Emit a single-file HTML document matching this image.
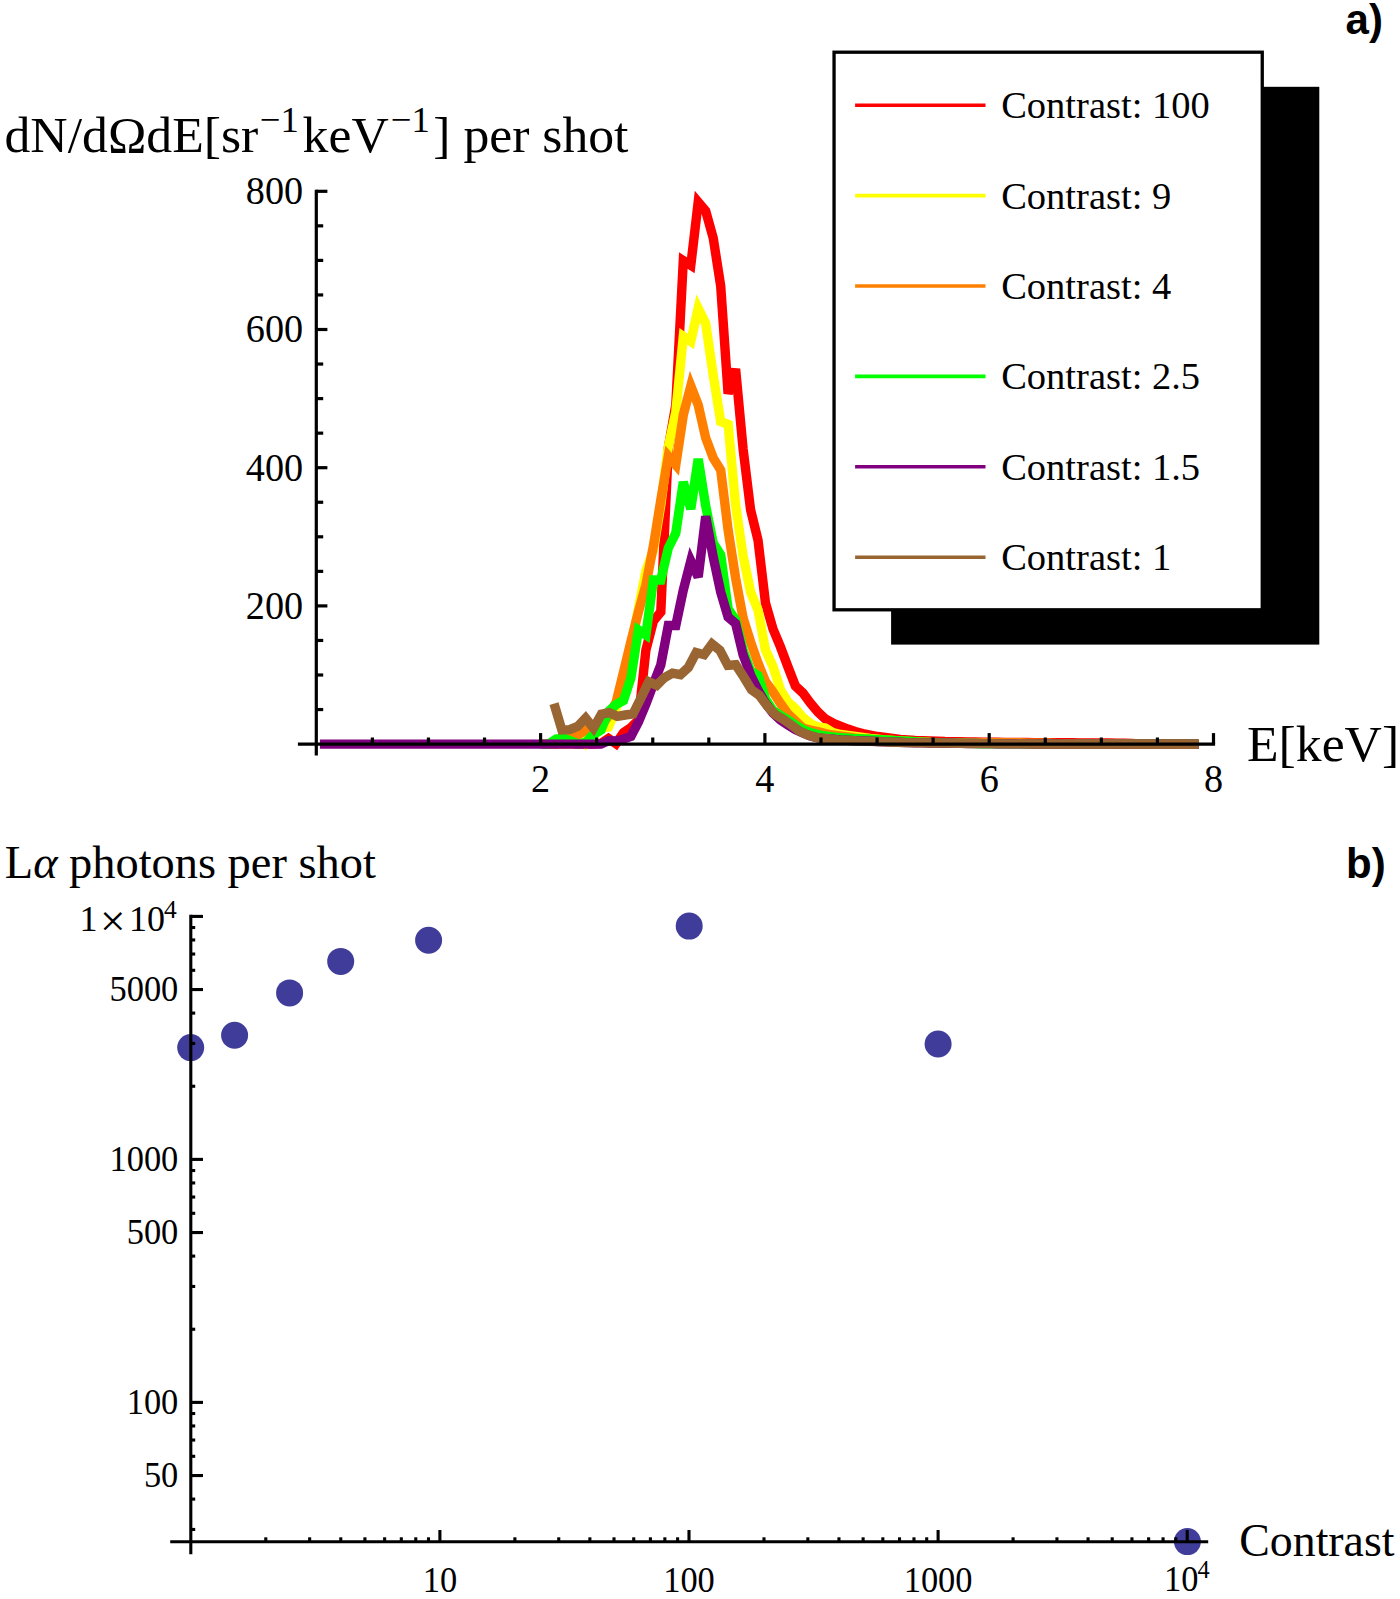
<!DOCTYPE html>
<html><head><meta charset="utf-8"><title>Figure</title>
<style>
html,body{margin:0;padding:0;background:#fff;}
body{width:1400px;height:1599px;overflow:hidden;}
svg{display:block}
text{font-family:"Liberation Serif","DejaVu Serif",serif;fill:#000}
.sans{font-family:"Liberation Sans","DejaVu Sans",sans-serif;font-weight:bold}
</style></head><body>
<svg width="1400" height="1599" viewBox="0 0 1400 1599">
<rect width="1400" height="1599" fill="#fff"/>
<g id="curves">
<polyline points="541.2,744.1 548.7,744.1 556.2,744.1 563.6,744.1 571.1,744.1 578.6,744.1 586.1,744.1 593.5,744.0 601.0,743.5 608.5,738.5 616.0,743.6 623.5,732.6 630.9,727.5 638.4,720.0 645.9,650.0 653.4,621.0 660.8,612.0 668.3,448.0 675.8,405.0 683.3,260.6 690.8,265.3 698.2,202.2 705.7,211.1 713.2,237.9 720.7,286.0 728.1,393.6 735.6,369.0 743.1,449.0 750.6,510.0 758.0,540.0 765.5,603.0 773.0,629.0 780.5,647.0 788.0,667.0 795.4,686.0 802.9,693.0 810.4,703.0 817.9,712.0 825.3,719.0 832.8,723.0 840.3,726.0 847.8,729.0 855.2,731.5 862.7,733.5 870.2,735.0 877.7,736.5 885.2,737.5 892.6,738.5 900.1,739.5 907.6,740.0 915.1,740.5 922.5,740.8 930.0,741.0 937.5,741.2 945.0,741.5 952.4,741.6 959.9,741.8 967.4,741.9 974.9,742.0 982.4,742.2 989.8,742.3 997.3,742.3 1004.8,742.4 1012.3,742.4 1019.7,742.5 1027.2,742.5 1034.7,742.6 1042.2,742.6 1049.6,742.7 1057.1,742.8 1064.6,742.8 1072.1,742.8 1079.6,742.9 1087.0,742.9 1094.5,743.0 1102.0,743.0 1109.5,743.0 1116.9,743.1 1124.4,743.1 1131.9,743.5 1139.4,743.9 1146.8,744.3 1154.3,744.3 1161.8,744.3 1169.3,744.3 1176.8,744.3 1184.2,744.3 1191.7,744.3 1198.6,744.3" fill="none" stroke="#ff0000" stroke-width="9.4" stroke-linejoin="miter" stroke-miterlimit="3.5" />
<polyline points="541.2,744.1 548.7,744.1 556.2,744.1 563.6,744.1 571.1,744.0 578.6,734.0 586.1,743.5 593.5,736.0 601.0,728.0 608.5,727.0 616.0,709.0 623.5,680.0 630.9,647.0 638.4,609.0 645.9,571.0 653.4,550.0 660.8,505.0 668.3,447.0 675.8,412.0 683.3,336.3 690.8,341.4 698.2,308.3 705.7,323.5 713.2,375.0 720.7,421.6 728.1,424.4 735.6,505.0 743.1,556.0 750.6,592.0 758.0,610.0 765.5,650.0 773.0,666.5 780.5,690.0 788.0,702.0 795.4,708.5 802.9,717.5 810.4,723.5 817.9,727.0 825.3,728.0 832.8,732.5 840.3,734.5 847.8,735.5 855.2,736.5 862.7,737.5 870.2,738.5 877.7,739.2 885.2,740.0 892.6,740.5 900.1,741.0 907.6,741.4 915.1,741.8 922.5,742.1 930.0,742.5 937.5,742.6 945.0,742.8 952.4,742.9 959.9,743.0 967.4,743.0 974.9,743.1 982.4,743.1 989.8,743.2 997.3,743.2 1004.8,743.3 1012.3,743.3 1019.7,743.3 1027.2,743.4 1034.7,743.4 1042.2,743.5 1049.6,743.5 1057.1,743.6 1064.6,743.6 1072.1,743.6 1079.6,743.6 1087.0,743.6 1094.5,743.6 1102.0,743.6 1109.5,743.6 1116.9,743.6 1124.4,743.6 1131.9,743.6 1139.4,743.6 1146.8,743.6 1154.3,743.6 1161.8,743.6 1169.3,743.6 1176.8,743.6 1184.2,743.6 1191.7,743.6 1198.6,743.6" fill="none" stroke="#ffff00" stroke-width="9.4" stroke-linejoin="miter" stroke-miterlimit="3.5" />
<polyline points="541.2,744.1 548.7,744.1 556.2,744.0 563.6,741.0 571.1,735.0 578.6,734.5 586.1,730.0 593.5,731.0 601.0,726.0 608.5,716.0 616.0,702.5 623.5,672.0 630.9,641.5 638.4,612.0 645.9,585.0 653.4,546.0 660.8,500.0 668.3,456.1 675.8,464.9 683.3,415.0 690.8,386.0 698.2,405.0 705.7,438.0 713.2,458.0 720.7,470.0 728.1,530.0 735.6,578.0 743.1,618.0 750.6,642.0 758.0,663.0 765.5,681.5 773.0,692.0 780.5,703.5 788.0,714.0 795.4,721.0 802.9,728.0 810.4,730.0 817.9,731.5 825.3,733.5 832.8,735.0 840.3,736.0 847.8,737.0 855.2,738.0 862.7,738.8 870.2,739.5 877.7,740.0 885.2,740.5 892.6,741.0 900.1,741.5 907.6,741.8 915.1,742.0 922.5,742.2 930.0,742.5 937.5,742.6 945.0,742.7 952.4,742.8 959.9,742.9 967.4,742.9 974.9,743.0 982.4,743.1 989.8,743.2 997.3,743.2 1004.8,743.3 1012.3,743.3 1019.7,743.4 1027.2,743.4 1034.7,743.4 1042.2,743.5 1049.6,743.5 1057.1,743.6 1064.6,743.6 1072.1,743.6 1079.6,743.6 1087.0,743.6 1094.5,743.6 1102.0,743.6 1109.5,743.6 1116.9,743.6 1124.4,743.6 1131.9,743.6 1139.4,743.6 1146.8,743.6 1154.3,743.6 1161.8,743.6 1169.3,743.6 1176.8,743.6 1184.2,743.6 1191.7,743.6 1198.6,743.6" fill="none" stroke="#ff8000" stroke-width="9.4" stroke-linejoin="miter" stroke-miterlimit="3.5" />
<polyline points="541.2,744.1 548.7,744.0 556.2,739.0 563.6,738.0 571.1,741.0 578.6,744.0 586.1,742.0 593.5,734.3 601.0,730.0 608.5,711.5 616.0,704.5 623.5,700.5 630.9,678.0 638.4,630.0 645.9,635.0 653.4,580.0 660.8,580.0 668.3,548.0 675.8,533.0 683.3,482.0 690.8,509.0 698.2,459.0 705.7,506.0 713.2,543.0 720.7,555.0 728.1,609.0 735.6,620.0 743.1,650.0 750.6,671.0 758.0,675.5 765.5,699.0 773.0,710.5 780.5,715.5 788.0,720.0 795.4,725.0 802.9,729.5 810.4,732.5 817.9,734.5 825.3,736.0 832.8,737.0 840.3,737.6 847.8,738.1 855.2,738.6 862.7,739.0 870.2,739.3 877.7,739.6 885.2,740.0 892.6,740.5 900.1,740.9 907.6,741.3 915.1,741.8 922.5,742.1 930.0,742.4 937.5,742.7 945.0,743.0 952.4,743.1 959.9,743.3 967.4,743.4 974.9,743.5 982.4,743.7 989.8,743.8 997.3,743.8 1004.8,743.9 1012.3,743.9 1019.7,743.9 1027.2,744.0 1034.7,744.0 1042.2,744.0 1049.6,744.0 1057.1,744.1 1064.6,744.1 1072.1,744.1 1079.6,744.1 1087.0,744.1 1094.5,744.1 1102.0,744.1 1109.5,744.1 1116.9,744.1 1124.4,744.1 1131.9,744.1 1139.4,744.1 1146.8,744.1 1154.3,744.1 1161.8,744.1 1169.3,744.1 1176.8,744.1 1184.2,744.1 1191.7,744.1 1198.6,744.1" fill="none" stroke="#00ff00" stroke-width="9.4" stroke-linejoin="miter" stroke-miterlimit="3.5" />
<polyline points="319.9,744.1 324.4,744.1 331.9,744.1 339.3,744.1 346.8,744.1 354.3,744.1 361.8,744.1 369.2,744.1 376.7,744.1 384.2,744.1 391.7,744.1 399.1,744.1 406.6,744.1 414.1,744.1 421.6,744.1 429.1,744.1 436.5,744.1 444.0,744.1 451.5,744.1 459.0,744.1 466.4,744.1 473.9,744.1 481.4,744.1 488.9,744.1 496.3,744.1 503.8,744.1 511.3,744.1 518.8,744.1 526.3,744.1 533.7,744.1 541.2,744.1 548.7,744.1 556.2,744.1 563.6,744.1 571.1,744.1 578.6,744.1 586.1,744.1 593.5,744.1 601.0,744.0 608.5,740.8 616.0,741.0 623.5,739.0 630.9,736.5 638.4,722.0 645.9,704.0 653.4,684.0 660.8,665.0 668.3,625.5 675.8,625.5 683.3,590.0 690.8,561.0 698.2,577.0 705.7,516.4 713.2,557.0 720.7,592.0 728.1,617.0 735.6,623.5 743.1,655.0 750.6,675.0 758.0,690.0 765.5,703.0 773.0,713.0 780.5,720.0 788.0,725.0 795.4,729.5 802.9,733.0 810.4,736.0 817.9,737.8 825.3,738.6 832.8,739.2 840.3,740.0 847.8,740.3 855.2,740.6 862.7,740.9 870.2,741.1 877.7,741.5 885.2,741.9 892.6,742.1 900.1,742.3 907.6,742.6 915.1,742.8 922.5,742.9 930.0,743.0 937.5,743.1 945.0,743.2 952.4,743.3 959.9,743.4 967.4,743.5 974.9,743.5 982.4,743.6 989.8,743.6 997.3,743.7 1004.8,743.8 1012.3,743.8 1019.7,743.9 1027.2,743.9 1034.7,744.0 1042.2,744.0 1049.6,744.0 1057.1,744.0 1064.6,744.1 1072.1,744.1 1079.6,744.1 1087.0,744.1 1094.5,744.1 1102.0,744.1 1109.5,744.1 1116.9,744.2 1124.4,744.2 1131.9,744.2 1139.4,744.2 1146.8,744.2 1154.3,744.2 1161.8,744.2 1169.3,744.2 1176.8,744.2 1184.2,744.2 1191.7,744.2 1198.6,744.2" fill="none" stroke="#800080" stroke-width="9.4" stroke-linejoin="miter" stroke-miterlimit="3.5" />
<polyline points="554.0,703.6 561.9,730.0 569.8,729.7 577.7,726.4 585.6,718.1 593.5,728.2 601.4,714.3 609.3,712.7 617.2,716.4 625.1,715.0 633.0,714.0 640.9,698.1 648.8,681.8 656.7,685.4 664.6,677.5 672.5,673.2 680.4,674.7 688.3,667.5 696.2,652.5 704.1,654.7 712.0,644.0 719.9,650.4 727.8,665.4 735.7,664.7 743.6,676.8 751.5,689.7 759.4,695.4 767.3,706.0 775.2,714.5 783.1,719.1 791.0,724.8 798.9,730.8 806.8,734.6 814.7,737.1 822.6,738.3 830.5,739.0 838.4,740.0 846.3,740.4 854.2,740.7 862.1,741.1 870.0,741.4 904.0,742.6 960.0,743.4 1040.0,744.0 1198.6,744.2" fill="none" stroke="#996633" stroke-width="9.4" stroke-linejoin="miter" stroke-miterlimit="3.5" />
</g>
<g id="axes-a" stroke="#000" stroke-width="3.2" fill="none">
<line x1="316.3" y1="189.7" x2="316.3" y2="755.4"/>
<line x1="297.9" y1="744.1" x2="1215.1" y2="744.1"/>
<line x1="316.3" y1="709.55" x2="323.2" y2="709.55"/>
<line x1="316.3" y1="675.00" x2="323.2" y2="675.00"/>
<line x1="316.3" y1="640.45" x2="323.2" y2="640.45"/>
<line x1="316.3" y1="605.90" x2="327.4" y2="605.90"/>
<line x1="316.3" y1="571.35" x2="323.2" y2="571.35"/>
<line x1="316.3" y1="536.80" x2="323.2" y2="536.80"/>
<line x1="316.3" y1="502.25" x2="323.2" y2="502.25"/>
<line x1="316.3" y1="467.70" x2="327.4" y2="467.70"/>
<line x1="316.3" y1="433.15" x2="323.2" y2="433.15"/>
<line x1="316.3" y1="398.60" x2="323.2" y2="398.60"/>
<line x1="316.3" y1="364.05" x2="323.2" y2="364.05"/>
<line x1="316.3" y1="329.50" x2="327.4" y2="329.50"/>
<line x1="316.3" y1="294.95" x2="323.2" y2="294.95"/>
<line x1="316.3" y1="260.40" x2="323.2" y2="260.40"/>
<line x1="316.3" y1="225.85" x2="323.2" y2="225.85"/>
<line x1="316.3" y1="191.30" x2="327.4" y2="191.30"/>
<line x1="372.38" y1="744.1" x2="372.38" y2="737.5"/>
<line x1="428.45" y1="744.1" x2="428.45" y2="737.5"/>
<line x1="484.53" y1="744.1" x2="484.53" y2="737.5"/>
<line x1="540.60" y1="744.1" x2="540.60" y2="733.1"/>
<line x1="596.67" y1="744.1" x2="596.67" y2="737.5"/>
<line x1="652.75" y1="744.1" x2="652.75" y2="737.5"/>
<line x1="708.83" y1="744.1" x2="708.83" y2="737.5"/>
<line x1="764.90" y1="744.1" x2="764.90" y2="733.1"/>
<line x1="820.98" y1="744.1" x2="820.98" y2="737.5"/>
<line x1="877.05" y1="744.1" x2="877.05" y2="737.5"/>
<line x1="933.12" y1="744.1" x2="933.12" y2="737.5"/>
<line x1="989.20" y1="744.1" x2="989.20" y2="733.1"/>
<line x1="1045.28" y1="744.1" x2="1045.28" y2="737.5"/>
<line x1="1101.35" y1="744.1" x2="1101.35" y2="737.5"/>
<line x1="1157.42" y1="744.1" x2="1157.42" y2="737.5"/>
<line x1="1213.50" y1="744.1" x2="1213.50" y2="733.1"/>
</g>
<text transform="translate(303.2 618.8) scale(0.956 1)" font-size="40" text-anchor="end">200</text>
<text transform="translate(303.2 480.6) scale(0.956 1)" font-size="40" text-anchor="end">400</text>
<text transform="translate(303.2 342.4) scale(0.956 1)" font-size="40" text-anchor="end">600</text>
<text transform="translate(303.2 204.2) scale(0.956 1)" font-size="40" text-anchor="end">800</text>
<text transform="translate(540.6 791.5) scale(0.956 1)" font-size="40" text-anchor="middle">2</text>
<text transform="translate(764.9 791.5) scale(0.956 1)" font-size="40" text-anchor="middle">4</text>
<text transform="translate(989.2 791.5) scale(0.956 1)" font-size="40" text-anchor="middle">6</text>
<text transform="translate(1213.5 791.5) scale(0.956 1)" font-size="40" text-anchor="middle">8</text>
<text x="1247.0" y="760.7" font-size="51.7">E[keV]</text>
<text x="4.5" y="151.7" font-size="51.7">dN/dΩdE[sr<tspan font-size="36.7" dy="-19.4" dx="1.5">−1</tspan><tspan dy="19.4" dx="3.8">keV</tspan><tspan font-size="36.7" dy="-19.4" dx="2">−1</tspan><tspan dy="19.4" dx="3.5">] per shot</tspan></text>
<rect x="891.1" y="86.8" width="428.2" height="557.8" fill="#000"/>
<rect x="834.05" y="52.2" width="428.2" height="557.6" fill="#fff" stroke="#000" stroke-width="3.3"/>
<line x1="855.1" y1="105.2" x2="985.5" y2="105.2" stroke="#ff0000" stroke-width="3.6"/>
<text x="1001.2" y="118.2" font-size="38.5">Contrast: 100</text>
<line x1="855.1" y1="195.6" x2="985.5" y2="195.6" stroke="#ffff00" stroke-width="3.6"/>
<text x="1001.2" y="208.6" font-size="38.5">Contrast: 9</text>
<line x1="855.1" y1="286.0" x2="985.5" y2="286.0" stroke="#ff8000" stroke-width="3.6"/>
<text x="1001.2" y="299.0" font-size="38.5">Contrast: 4</text>
<line x1="855.1" y1="376.4" x2="985.5" y2="376.4" stroke="#00ff00" stroke-width="3.6"/>
<text x="1001.2" y="389.4" font-size="38.5">Contrast: 2.5</text>
<line x1="855.1" y1="466.8" x2="985.5" y2="466.8" stroke="#800080" stroke-width="3.6"/>
<text x="1001.2" y="479.8" font-size="38.5">Contrast: 1.5</text>
<line x1="855.1" y1="557.2" x2="985.5" y2="557.2" stroke="#996633" stroke-width="3.6"/>
<text x="1001.2" y="570.2" font-size="38.5">Contrast: 1</text>
<text class="sans" x="1345.6" y="33.7" font-size="42">a)</text>
<text class="sans" x="1346.0" y="878.0" font-size="42">b)</text>
<g id="dots" fill="#3f3d99">
<circle cx="190.7" cy="1047.6" r="13.5"/>
<circle cx="234.6" cy="1035.3" r="13.5"/>
<circle cx="289.6" cy="992.9" r="13.5"/>
<circle cx="340.7" cy="961.4" r="13.5"/>
<circle cx="428.6" cy="940.3" r="13.5"/>
<circle cx="689.2" cy="926.1" r="13.5"/>
<circle cx="938.1" cy="1044.0" r="13.5"/>
<circle cx="1187.4" cy="1541.6" r="13.5"/>
</g>
<g id="axes-b" stroke="#000" stroke-width="3.1" fill="none">
<line x1="190.8" y1="914.8" x2="190.8" y2="1554.2"/>
<line x1="170.2" y1="1541.7" x2="1208.2" y2="1541.7"/>
<line x1="190.8" y1="1529.46" x2="195.2" y2="1529.46"/>
<line x1="190.8" y1="1499.10" x2="195.2" y2="1499.10"/>
<line x1="190.8" y1="1475.55" x2="203.0" y2="1475.55"/>
<line x1="190.8" y1="1456.31" x2="195.2" y2="1456.31"/>
<line x1="190.8" y1="1440.04" x2="195.2" y2="1440.04"/>
<line x1="190.8" y1="1425.95" x2="195.2" y2="1425.95"/>
<line x1="190.8" y1="1413.52" x2="195.2" y2="1413.52"/>
<line x1="190.8" y1="1402.40" x2="203.0" y2="1402.40"/>
<line x1="190.8" y1="1329.25" x2="195.2" y2="1329.25"/>
<line x1="190.8" y1="1286.46" x2="195.2" y2="1286.46"/>
<line x1="190.8" y1="1256.10" x2="195.2" y2="1256.10"/>
<line x1="190.8" y1="1232.55" x2="203.0" y2="1232.55"/>
<line x1="190.8" y1="1213.31" x2="195.2" y2="1213.31"/>
<line x1="190.8" y1="1197.04" x2="195.2" y2="1197.04"/>
<line x1="190.8" y1="1182.95" x2="195.2" y2="1182.95"/>
<line x1="190.8" y1="1170.52" x2="195.2" y2="1170.52"/>
<line x1="190.8" y1="1159.40" x2="203.0" y2="1159.40"/>
<line x1="190.8" y1="1086.25" x2="195.2" y2="1086.25"/>
<line x1="190.8" y1="1043.46" x2="195.2" y2="1043.46"/>
<line x1="190.8" y1="1013.10" x2="195.2" y2="1013.10"/>
<line x1="190.8" y1="989.55" x2="203.0" y2="989.55"/>
<line x1="190.8" y1="970.31" x2="195.2" y2="970.31"/>
<line x1="190.8" y1="954.04" x2="195.2" y2="954.04"/>
<line x1="190.8" y1="939.95" x2="195.2" y2="939.95"/>
<line x1="190.8" y1="927.52" x2="195.2" y2="927.52"/>
<line x1="190.8" y1="916.40" x2="203.0" y2="916.40"/>
<line x1="265.79" y1="1541.7" x2="265.79" y2="1537.3"/>
<line x1="309.65" y1="1541.7" x2="309.65" y2="1537.3"/>
<line x1="340.77" y1="1541.7" x2="340.77" y2="1537.3"/>
<line x1="364.91" y1="1541.7" x2="364.91" y2="1537.3"/>
<line x1="384.64" y1="1541.7" x2="384.64" y2="1537.3"/>
<line x1="401.31" y1="1541.7" x2="401.31" y2="1537.3"/>
<line x1="415.76" y1="1541.7" x2="415.76" y2="1537.3"/>
<line x1="428.50" y1="1541.7" x2="428.50" y2="1537.3"/>
<line x1="439.90" y1="1541.7" x2="439.90" y2="1530.0"/>
<line x1="514.89" y1="1541.7" x2="514.89" y2="1537.3"/>
<line x1="558.75" y1="1541.7" x2="558.75" y2="1537.3"/>
<line x1="589.87" y1="1541.7" x2="589.87" y2="1537.3"/>
<line x1="614.01" y1="1541.7" x2="614.01" y2="1537.3"/>
<line x1="633.74" y1="1541.7" x2="633.74" y2="1537.3"/>
<line x1="650.41" y1="1541.7" x2="650.41" y2="1537.3"/>
<line x1="664.86" y1="1541.7" x2="664.86" y2="1537.3"/>
<line x1="677.60" y1="1541.7" x2="677.60" y2="1537.3"/>
<line x1="689.00" y1="1541.7" x2="689.00" y2="1530.0"/>
<line x1="763.99" y1="1541.7" x2="763.99" y2="1537.3"/>
<line x1="807.85" y1="1541.7" x2="807.85" y2="1537.3"/>
<line x1="838.97" y1="1541.7" x2="838.97" y2="1537.3"/>
<line x1="863.11" y1="1541.7" x2="863.11" y2="1537.3"/>
<line x1="882.84" y1="1541.7" x2="882.84" y2="1537.3"/>
<line x1="899.51" y1="1541.7" x2="899.51" y2="1537.3"/>
<line x1="913.96" y1="1541.7" x2="913.96" y2="1537.3"/>
<line x1="926.70" y1="1541.7" x2="926.70" y2="1537.3"/>
<line x1="938.10" y1="1541.7" x2="938.10" y2="1530.0"/>
<line x1="1013.09" y1="1541.7" x2="1013.09" y2="1537.3"/>
<line x1="1056.95" y1="1541.7" x2="1056.95" y2="1537.3"/>
<line x1="1088.07" y1="1541.7" x2="1088.07" y2="1537.3"/>
<line x1="1112.21" y1="1541.7" x2="1112.21" y2="1537.3"/>
<line x1="1131.94" y1="1541.7" x2="1131.94" y2="1537.3"/>
<line x1="1148.61" y1="1541.7" x2="1148.61" y2="1537.3"/>
<line x1="1163.06" y1="1541.7" x2="1163.06" y2="1537.3"/>
<line x1="1175.80" y1="1541.7" x2="1175.80" y2="1537.3"/>
<line x1="1187.20" y1="1541.7" x2="1187.20" y2="1530.0"/>
</g>
<text transform="translate(178.3 1487.4) scale(0.956 1)" font-size="36" text-anchor="end">50</text>
<text transform="translate(178.3 1414.2) scale(0.956 1)" font-size="36" text-anchor="end">100</text>
<text transform="translate(178.3 1244.4) scale(0.956 1)" font-size="36" text-anchor="end">500</text>
<text transform="translate(178.3 1171.2) scale(0.956 1)" font-size="36" text-anchor="end">1000</text>
<text transform="translate(178.3 1001.4) scale(0.956 1)" font-size="36" text-anchor="end">5000</text>
<text x="79.6" y="930.9" font-size="36">1</text>
<text x="100.0" y="935.9" font-size="45.3">×</text>
<text x="129.1" y="930.9" font-size="36">10<tspan font-size="25.5" dy="-12.8" dx="-1">4</tspan></text>
<text transform="translate(439.9 1592.4) scale(0.956 1)" font-size="36" text-anchor="middle">10</text>
<text transform="translate(689.0 1592.4) scale(0.956 1)" font-size="36" text-anchor="middle">100</text>
<text transform="translate(938.1 1592.4) scale(0.956 1)" font-size="36" text-anchor="middle">1000</text>
<text transform="translate(1164.0 1590.6) scale(0.956 1)" font-size="36">10<tspan font-size="25.5" dy="-12.8" dx="-1">4</tspan></text>
<text x="1239.3" y="1556.4" font-size="45.8">Contrast</text>
<text x="4.8" y="878.2" font-size="46.4">L<tspan font-style="italic">α</tspan> photons per shot</text>
</svg></body></html>
